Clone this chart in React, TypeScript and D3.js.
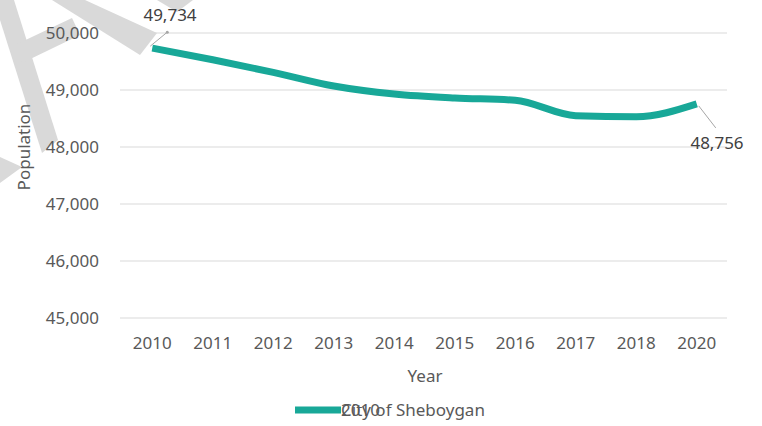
import React from "react";
import * as d3 from "d3";

// chart data
const years = ["2010", "2011", "2012", "2013", "2014", "2015", "2016", "2017", "2018", "2020"];
const population = [49734, 49530, 49310, 49070, 48930, 48860, 48820, 48550, 48530, 48756];
const yTicks = [45000, 46000, 47000, 48000, 49000, 50000];
const seriesName = "City of Sheboygan";

// faint watermark pieces behind the chart
const watermark: [number, number][][] = [
  [[0, 0], [14, 0], [58, 140], [42, 153], [0, 20]],
  [[15, 45], [72, 18], [80, 35], [22, 63]],
  [[52, 0], [85, 0], [157, 33], [140, 55]],
  [[0, 157], [22, 167], [0, 183]],
  [[157, 0], [193, 0], [177, 12]],
];

const W = 762, H = 426;
const m = { l: 122, r: 35, t: 33, b: 108 };
const font = "'Noto Sans', sans-serif";
const grey = "#595959";
const teal = "#18a898";

export default function App() {
  const x = d3.scalePoint<string>().domain(years).range([m.l, W - m.r]).padding(0.5);
  const y = d3.scaleLinear().domain([45000, 50000]).range([H - m.b, m.t]);
  const line = d3.line<number>()
    .x((_, i) => x(years[i])!)
    .y(d => y(d))
    .curve(d3.curveMonotoneX);
  const fmt = d3.format(",");

  const first = population[0], last = population[population.length - 1];
  const x0 = x(years[0])!, y0 = y(first);
  const x1 = x(years[years.length - 1])!, y1 = y(last);

  return (
    <svg width={W} height={H} style={{ position: "absolute", left: 0, top: 0, background: "#fff" }}
      fontFamily={font}>
      <rect width={W} height={H} fill="#fff" />
      {watermark.map((p, i) => (
        <polygon key={i} points={p.map(q => q.join(",")).join(" ")} fill="#d9d9d9" />
      ))}
      {yTicks.map(t => (
        <g key={t}>
          <line x1={m.l - 2} x2={W - m.r} y1={y(t)} y2={y(t)} stroke="#d9d9d9" strokeWidth={1.2} />
          <text x={99} y={y(t)} dy="0.35em" textAnchor="end" fontSize={17} fill={grey}>{fmt(t)}</text>
        </g>
      ))}
      {years.map(yr => (
        <text key={yr} x={x(yr)} y={343} dy="0.35em" textAnchor="middle" fontSize={17} fill={grey}>{yr}</text>
      ))}
      <path d={line(population)!} fill="none" stroke={teal} strokeWidth={7} strokeLinecap="butt" strokeLinejoin="round" />
      {/* data label leaders */}
      <line x1={x0 - 2} y1={y0 - 2} x2={x0 + 15} y2={y0 - 16} stroke="#a6a6a6" strokeWidth={1} />
      <circle cx={x0 + 15} cy={y0 - 16} r={1.5} fill="#a6a6a6" />
      <text x={170} y={15} dy="0.35em" textAnchor="middle" fontSize={17} fill="#404040">{fmt(first)}</text>
      <line x1={x1 + 2} y1={y1 + 2} x2={x1 + 19} y2={y1 + 24} stroke="#a6a6a6" strokeWidth={1} />
      <text x={717} y={143} dy="0.35em" textAnchor="middle" fontSize={17} fill="#404040">{fmt(last)}</text>
      {/* axis titles */}
      <text transform="translate(24,147) rotate(-90)" dy="0.35em" textAnchor="middle" fontSize={17} fill={grey}>Population</text>
      <text x={425} y={376} dy="0.35em" textAnchor="middle" fontSize={17} fill={grey}>Year</text>
      {/* legend: the source draws the series name and the first year on top of each other */}
      <line x1={295} x2={341} y1={410} y2={410} stroke={teal} strokeWidth={7} />
      <text x={341} y={410} dy="0.35em" fontSize={17} fill={grey}>{seriesName}</text>
      <text x={341} y={410} dy="0.35em" fontSize={17} fill={grey}>{years[0]}</text>
    </svg>
  );
}
